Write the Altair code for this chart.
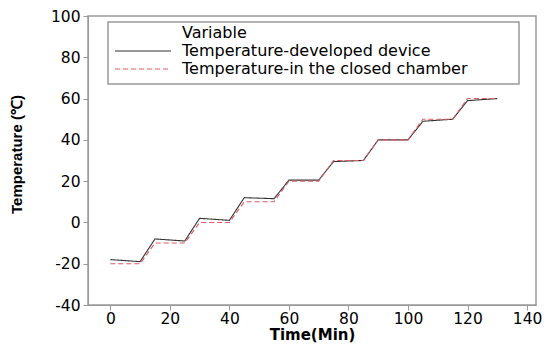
import altair as alt
import pandas as pd

time = [0, 10, 15, 25, 30, 40, 45, 55, 60, 70, 75, 85, 90, 100, 105, 115, 120, 130]
device = [-18, -19, -8, -9, 2, 1, 12, 11.5, 20.5, 20.5, 29.5, 30, 40, 40, 49, 50, 59, 60]
chamber = [-20, -20, -10, -10, 0, 0, 10, 10, 20, 20, 30, 30, 40, 40, 50, 50, 60, 60]
series = ["Temperature-developed device", "Temperature-in the closed chamber"]
legend_title = "Variable"
colors = ["#333333", "#e35a63"]
dashes = [[1, 0], [5, 3]]
x_ticks = [0, 20, 40, 60, 80, 100, 120, 140]
y_ticks = [-40, -20, 0, 20, 40, 60, 80, 100]

rows = []
for t, d, c in zip(time, device, chamber):
    rows.append({"Time": t, "Temp": d, "Variable": series[0]})
    rows.append({"Time": t, "Temp": c, "Variable": series[1]})
df = pd.DataFrame(rows)

font = "DejaVu Sans"

axis_common = dict(grid=False, labelFontSize=15.5, titleFontWeight="bold",
                   labelColor="black", titleColor="black", domainColor="#999",
                   tickColor="#999", tickSize=5, labelFont=font,
                   labelExpr="toString(datum.value)")

lines = alt.Chart(df).mark_line(strokeWidth=1.1).encode(
    x=alt.X("Time:Q", title="Time(Min)",
            scale=alt.Scale(domain=[-7.5, 143], nice=False, zero=False),
            axis=alt.Axis(values=x_ticks, labelPadding=1, titlePadding=1,
                          titleFont=font, titleFontSize=15, **axis_common)),
    y=alt.Y("Temp:Q", title="Temperature (℃)",
            scale=alt.Scale(domain=[-40, 100], nice=False),
            axis=alt.Axis(values=y_ticks, labelPadding=3, titlePadding=26, titleY=138,
                          titleFont="Liberation Sans", titleFontSize=15, **axis_common)),
    color=alt.Color("Variable:N", sort=series,
                    scale=alt.Scale(domain=series, range=colors), legend=None),
    strokeDash=alt.StrokeDash("Variable:N", sort=series,
                              scale=alt.Scale(domain=series, range=dashes),
                              legend=None),
)

# manual legend box
box = alt.Chart().mark_rect(fill="white", stroke="#999", strokeWidth=1.5).encode(
    x=alt.value(20), x2=alt.value(431), y=alt.value(6), y2=alt.value(68))
title_txt = alt.Chart().mark_text(align="left", baseline="middle", font=font,
                                  fontSize=16, color="black").encode(
    x=alt.value(94), y=alt.value(17), text=alt.value(legend_title))
legend_layers = [box, title_txt]
row_y = [35, 53]
for i, s in enumerate(series):
    legend_layers.append(
        alt.Chart().mark_rule(strokeWidth=1.1, color=colors[i], strokeDash=dashes[i]).encode(
            x=alt.value(27), x2=alt.value(83), y=alt.value(row_y[i])))
    legend_layers.append(
        alt.Chart().mark_text(align="left", baseline="middle", font=font,
                              fontSize=16, color="black").encode(
            x=alt.value(94), y=alt.value(row_y[i]), text=alt.value(s)))

chart = alt.layer(lines, *legend_layers).properties(
    width=448, height=289,
    autosize=alt.AutoSizeParams(type="none"),
    padding={"left": 80, "top": 8, "right": 6, "bottom": 40},
).configure_view(stroke="#999", strokeWidth=1.5)

chart.save("out.html", embed_options={"renderer": "svg", "actions": False})
